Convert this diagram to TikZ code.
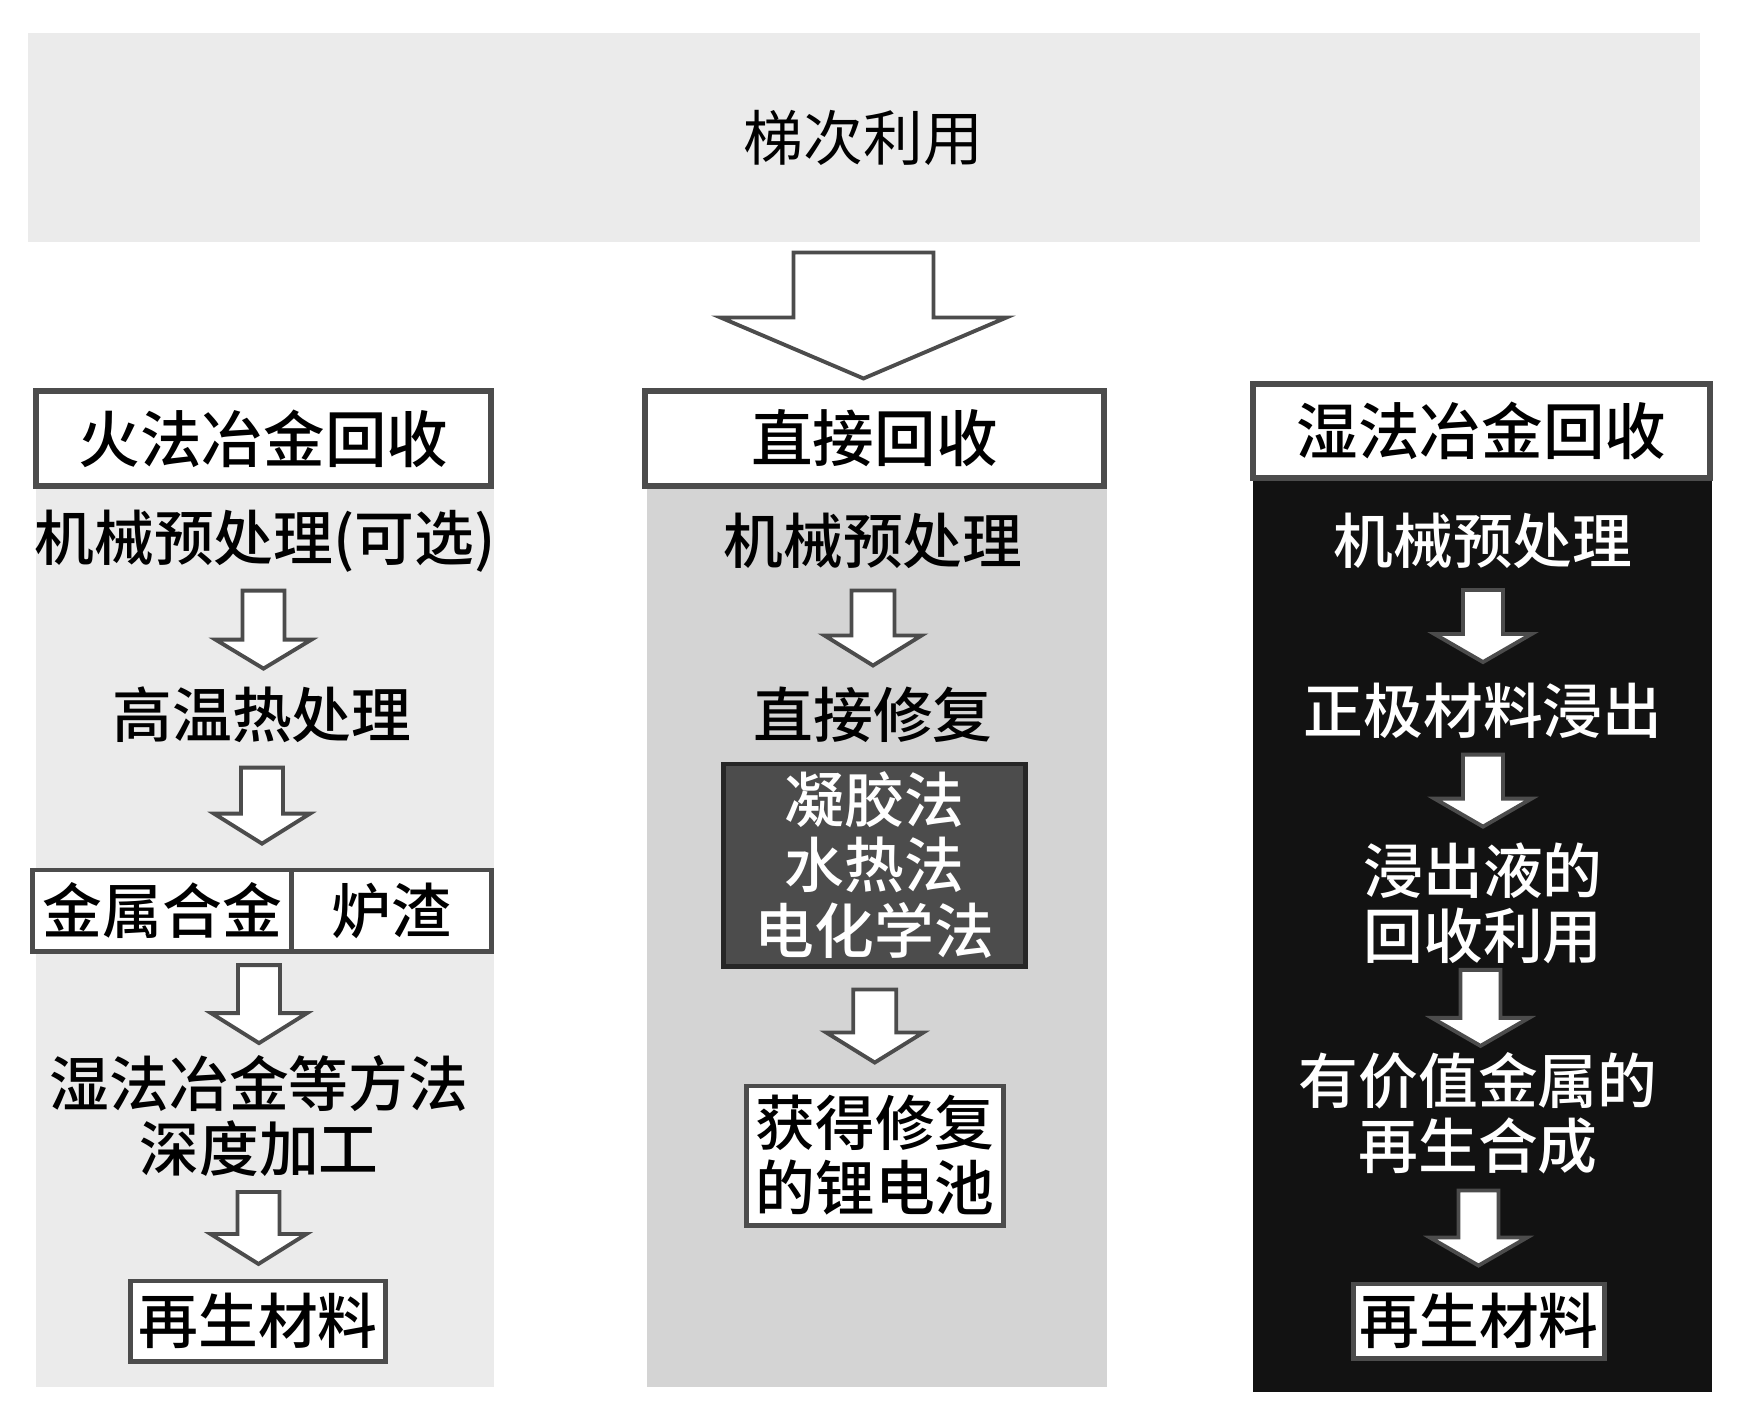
\documentclass[tikz,border=0pt]{standalone}
\usepackage{fontspec}
\setmainfont{Noto Sans CJK SC}[BoldFont={Noto Sans CJK SC Medium}]
\usepackage{tikz}
\usetikzlibrary{calc}

\tikzset{
  txt/.style={inner sep=0, align=center, font=\fontsize{17}{18.5}\selectfont\bfseries},
  wtxt/.style={txt, text=white},
  headbox/.style={draw=black!70, line width=1.6pt, fill=white, inner sep=0, font=\fontsize{17.5}{19}\selectfont\bfseries},
  whitebox/.style={draw=black!70, line width=1.4pt, fill=white, inner sep=0, align=center, font=\fontsize{17}{18.5}\selectfont\bfseries},
  darkbox/.style={draw=black!85, line width=1.4pt, fill=black!70, text=white, inner sep=0, align=center, font=\fontsize{17}{18.5}\selectfont\bfseries},
  arrowline/.style={draw=black!70, line width=1.1pt, fill=white, line join=miter},
  % hollow block arrow: shaft half width, head half width, length, head length
  pics/hollowdown/.style n args={4}{code={
    \draw[arrowline] (-#1,-#3/2) -- (#1,-#3/2) -- (#1,#3/2-#4) -- (#2,#3/2-#4)
      -- (0,#3/2) -- (-#2,#3/2-#4) -- (-#1,#3/2-#4) -- cycle;
  }},
}

\begin{document}
\begin{tikzpicture}[x=0.01cm, y=-0.01cm]
  \useasboundingbox (0,0) rectangle (1743,1420);

  % column panels
  \fill[black!8] (36,486) rectangle (494,1387);
  \fill[black!17] (647,486) rectangle (1107,1387);
  \fill[black!93] (1253,478) rectangle (1712,1392);

  \node[fill=black!8, minimum width=16.71cm, minimum height=2.09cm, txt, font=\fontsize{17}{18.5}\selectfont] at (863.5,137.5) (top) {梯次利用};

  \node[headbox, minimum width=4.55cm, minimum height=0.95cm] at (263.5,438.5) (hdL) {火法冶金回收};
  \node[headbox, minimum width=4.59cm, minimum height=0.95cm] at (874.5,438.5) (hdM) {直接回收};
  \node[headbox, minimum width=4.57cm, minimum height=0.94cm] at (1481.5,431) (hdR) {湿法冶金回收};

  \pic at ($(top.south)!0.5!(top.south|-hdM.north)$) {hollowdown={70}{143}{126}{61}};

  % pyrometallurgy
  \node[txt] at (265,541)  (l1) {机械预处理(可选)};
  \node[txt] at (262,715)  (l2) {高温热处理};
  \node[whitebox, minimum width=2.59cm, minimum height=0.81cm] at (162.5,910.5) (alloy) {金属合金};
  \node[whitebox, minimum width=1.99cm, minimum height=0.81cm] at (391.5,910.5) (slag) {炉渣};
  \node[txt] at (259,1116) (l3) {湿法冶金等方法\\深度加工};
  \node[whitebox, minimum width=2.54cm, minimum height=0.80cm] at (258,1321) (l4) {再生材料};

  \pic at ($(l1.south)!0.5!(l2.north)$) {hollowdown={21}{48}{78}{29}};
  \pic at ($(l2.south)!0.5!(l2.south|-alloy.north)$) {hollowdown={21}{48}{76}{30}};
  \pic at ($(l3.north|-alloy.south)!0.5!(l3.north)$) {hollowdown={21}{48}{78}{30}};
  \pic at ($(l3.south)!0.5!(l4.north)$) {hollowdown={21}{48}{72}{30}};

  % direct recycling
  \node[txt] at (873,541)  (m1) {机械预处理};
  \node[txt] at (873,715)  (m2) {直接修复};
  \node[darkbox, minimum width=3.01cm, minimum height=2.02cm] at (874.5,865) (m3) {凝胶法\\水热法\\电化学法};
  \node[whitebox, minimum width=2.56cm, minimum height=1.39cm] at (875,1155.5) (m4) {获得修复\\的锂电池};

  \pic at ($(m1.south)!0.5!(m2.north)$) {hollowdown={21.5}{48.5}{75}{30}};
  \pic at ($(m3.south)!0.5!(m4.north)$) {hollowdown={21.5}{48.5}{73}{30}};

  % hydrometallurgy
  \node[wtxt] at (1483,541)  (r1) {机械预处理};
  \node[wtxt] at (1483,711)  (r2) {正极材料浸出};
  \node[wtxt] at (1483,903)  (r3) {浸出液的\\回收利用};
  \node[wtxt] at (1478,1113) (r4) {有价值金属的\\再生合成};
  \node[whitebox, minimum width=2.50cm, minimum height=0.74cm] at (1479,1321) (r5) {再生材料};

  \pic at ($(r1.south)!0.5!(r2.north)$) {hollowdown={20}{48.5}{72}{28}};
  \pic at ($(r2.south)!0.5!(r3.north)$) {hollowdown={20}{48.5}{72}{28}};
  \pic at ($(r3.south)!0.5!(r4.north)$) {hollowdown={20}{48.5}{76}{28}};
  \pic at ($(r4.south)!0.5!(r5.north)$) {hollowdown={20}{48.5}{75}{28}};
\end{tikzpicture}
\end{document}
